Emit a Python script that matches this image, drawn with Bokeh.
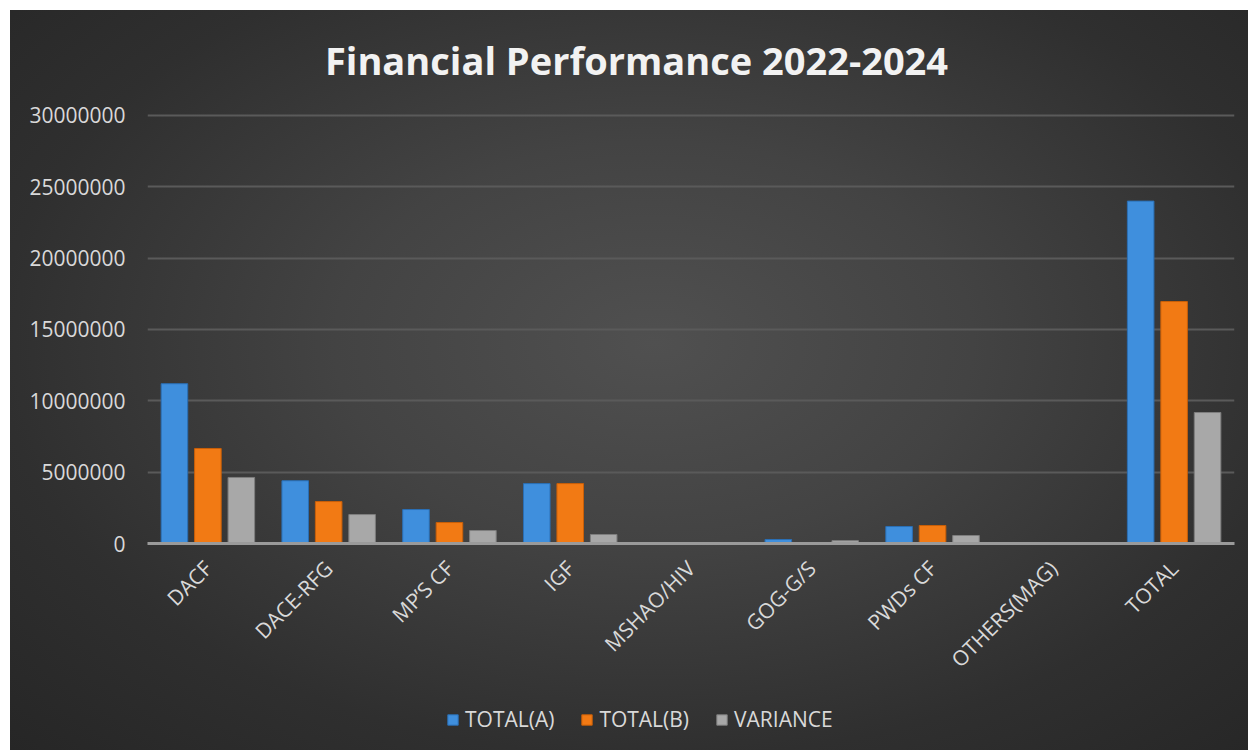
import math
from bokeh.plotting import figure
from bokeh.layouts import column
from bokeh.models import (ColumnDataSource, FactorRange, Range1d, FixedTicker,
                          NumeralTickFormatter, Legend, LegendItem, Label)
from bokeh.transform import dodge
from bokeh.embed import file_html
from bokeh.resources import INLINE

categories = ["DACF", "DACE-RFG", "MP\u2019S CF", "IGF", "MSHAO/HIV",
              "GOG-G/S", "PWDs CF", "OTHERS(MAG)", "TOTAL"]
total_a = [11200000, 4400000, 2380000, 4200000, 0, 280000, 1190000, 20000, 24000000]
total_b = [6660000, 2940000, 1470000, 4200000, 0, 20000, 1260000, 20000, 16960000]
variance = [4630000, 2030000, 910000, 630000, 0, 200000, 560000, 0, 9180000]
series_names = ["TOTAL(A)", "TOTAL(B)", "VARIANCE"]
y_ticks = [0, 5000000, 10000000, 15000000, 20000000, 25000000, 30000000]
title_text = "Financial Performance 2022-2024"

colors = ["#3f8fdd", "#f27a14", "#a8a8a8"]
edge_colors = ["#2a6fb5", "#c95f08", "#7e7e7e"]
offsets = [-0.277, 0.0, 0.277]
cols = ["a", "b", "v"]

source = ColumnDataSource(dict(cat=categories, a=total_a, b=total_b, v=variance))

BG_GRADIENT = ("radial-gradient(ellipse farthest-corner at 52% 45%, "
               "#505050 0%, #434343 35%, #2f2f2f 72%, #262626 100%)")
W = 1238
FRAME_L, FRAME_R = 148, 1235  # page x of plot frame edges
TEXT = "#d9d9d9"


def styled(fig):
    fig.background_fill_color = None
    fig.border_fill_color = None
    fig.outline_line_color = None
    return fig


# ---- title strip ----
p0 = styled(figure(width=W, height=90, x_range=Range1d(FRAME_L, FRAME_R),
                   y_range=Range1d(0, 90), output_backend="svg",
                   toolbar_location=None, margin=0,
                   min_border_left=137, min_border_right=14,
                   min_border_top=0, min_border_bottom=0))
p0.axis.visible = False
p0.grid.visible = False
p0.add_layout(Label(x=637, y=41, text=title_text, text_align="center",
                    text_baseline="middle", text_font="Open Sans",
                    text_font_style="bold", text_font_size="38px",
                    text_color="#f2f2f2"))

# ---- main chart ----
p = styled(figure(x_range=FactorRange(*categories, range_padding=0),
                  y_range=Range1d(0, 30140000),
                  width=W, height=590, margin=0,
                  output_backend="svg", toolbar_location=None,
                  min_border_left=137, min_border_right=14,
                  min_border_top=13, min_border_bottom=147))

for col, off, c, ec in zip(cols, offsets, colors, edge_colors):
    p.vbar(x=dodge("cat", off, range=p.x_range), top=col, width=0.22,
           source=source, fill_color=c, line_color=ec, line_width=1)

p.yaxis.ticker = FixedTicker(ticks=y_ticks)
p.yaxis.formatter = NumeralTickFormatter(format="0")
p.yaxis.axis_line_color = None
p.yaxis.major_tick_line_color = None
p.yaxis.minor_tick_line_color = None
p.yaxis.major_label_standoff = 16
p.yaxis.major_label_text_font = "Open Sans"
p.yaxis.major_label_text_font_size = "21px"
p.yaxis.major_label_text_color = TEXT

p.xaxis.axis_line_color = "#9a9a9a"
p.xaxis.axis_line_width = 3
p.xaxis.major_tick_line_color = None
p.xaxis.minor_tick_line_color = None
p.xaxis.major_label_orientation = math.pi / 4
p.xaxis.major_label_standoff = 15
p.xaxis.major_label_text_font = "Open Sans"
p.xaxis.major_label_text_font_size = "21px"
p.xaxis.major_label_text_color = TEXT

p.xgrid.grid_line_color = None
p.ygrid.grid_line_color = "#5a5a5a"
p.ygrid.grid_line_width = 2

# ---- legend strip (legend proxies sit outside this strip's y range) ----
p2 = styled(figure(width=W, height=60, x_range=FactorRange(*categories, range_padding=0),
                   y_range=Range1d(1e9, 2e9), output_backend="svg",
                   toolbar_location=None, margin=0,
                   min_border_left=137, min_border_right=14,
                   min_border_top=0, min_border_bottom=0))
p2.axis.visible = False
p2.grid.visible = False
leg_renderers = []
for col, off, c, ec in zip(cols, offsets, colors, edge_colors):
    r = p2.vbar(x=dodge("cat", off, range=p2.x_range), top=col, width=0.22,
                source=source, fill_color=c, line_color=ec, line_width=1)
    leg_renderers.append(r)

legend = Legend(items=[LegendItem(label=n, renderers=[r])
                       for n, r in zip(series_names, leg_renderers)],
                orientation="horizontal", location=(299, 17),
                background_fill_alpha=0, border_line_color=None,
                label_text_font="Open Sans", label_text_font_size="21px",
                label_text_color=TEXT, glyph_width=13, glyph_height=13,
                label_standoff=6, spacing=26, padding=0, margin=0)
p2.add_layout(legend, "center")

layout = column(p0, p, p2, spacing=0, margin=(10, 0, 0, 10),
                styles={"background": BG_GRADIENT})
open("out.html", "w").write(file_html(layout, INLINE))
